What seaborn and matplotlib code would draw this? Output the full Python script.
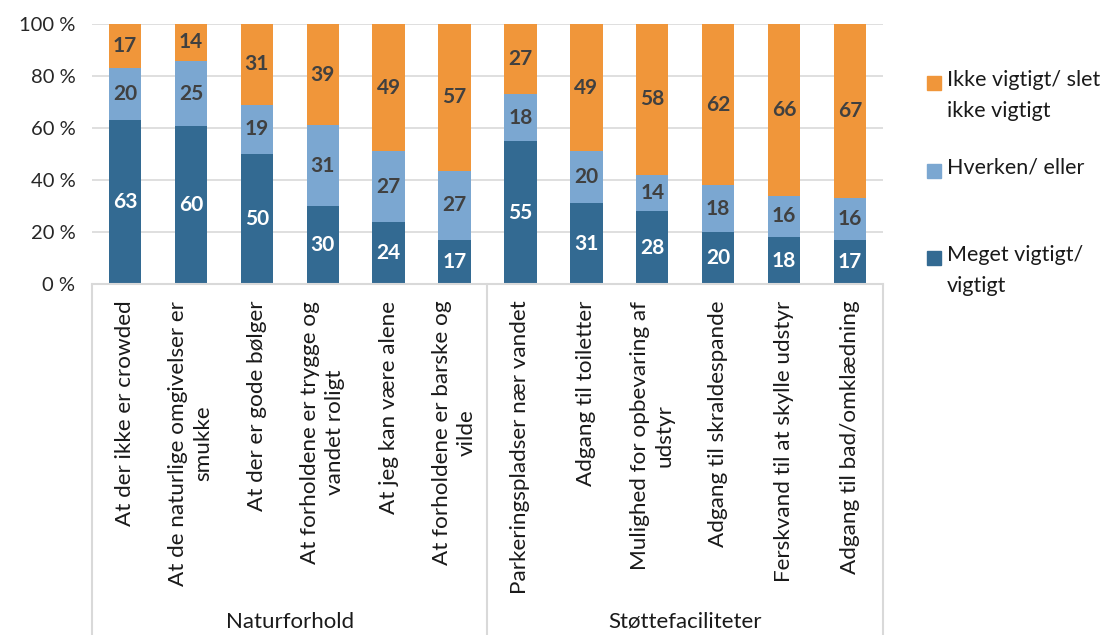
import matplotlib
matplotlib.use('Agg')
import matplotlib.pyplot as plt
from matplotlib.patches import Rectangle
import numpy as np
import pandas as pd
import seaborn as sns

categories = [
    'At der ikke er crowded',
    'At de naturlige omgivelser er\nsmukke',
    'At der er gode bølger',
    'At forholdene er trygge og\nvandet roligt',
    'At jeg kan være alene',
    'At forholdene er barske og\nvilde',
    'Parkeringspladser nær vandet',
    'Adgang til toiletter',
    'Mulighed for opbevaring af\nudstyr',
    'Adgang til skraldespande',
    'Ferskvand til at skylle udstyr',
    'Adgang til bad/omklædning',
]
groups = ['Naturforhold', 'Støttefaciliteter']
group_sizes = [6, 6]

meget = [63, 60, 50, 30, 24, 17, 55, 31, 28, 20, 18, 17]
hverken = [20, 25, 19, 31, 27, 27, 18, 20, 14, 18, 16, 16]
ikke = [17, 14, 31, 39, 49, 57, 27, 49, 58, 62, 66, 67]

series_names = ['Meget vigtigt/\nvigtigt', 'Hverken/ eller', 'Ikke vigtigt/ slet\nikke vigtigt']
colors = ['#336A92', '#7BA7D1', '#F0963A']

sns.set_style('white')
plt.rcParams['font.family'] = ['Lato', 'DejaVu Sans']

df = pd.DataFrame({'cat': categories, 'meget': meget, 'hverken': hverken, 'ikke': ikke})
tot = df[['meget', 'hverken', 'ikke']].sum(axis=1)
df['c1'] = df['meget'] / tot * 100
df['c2'] = (df['meget'] + df['hverken']) / tot * 100
df['c3'] = 100.0

W, H = 1103, 635
fig = plt.figure(figsize=(W / 100, H / 100), dpi=100)
ax = fig.add_axes([92 / W, 1 - 284 / H, 791 / W, 260 / H])

for y in [20, 40, 60, 80, 100]:
    ax.axhline(y, color='#D9D9D9', lw=1.2, zorder=0)

for col, c in zip(['c3', 'c2', 'c1'], [colors[2], colors[1], colors[0]]):
    sns.barplot(data=df, x='cat', y=col, color=c, width=0.49, ax=ax,
                saturation=1, edgecolor='none', zorder=2)

# labels
for i in range(len(categories)):
    c1, c2 = df['c1'][i], df['c2'][i]
    ax.text(i, c1 / 2, str(meget[i]), ha='center', va='center', color='white',
            fontsize=15, fontweight='bold')
    ax.text(i, (c1 + c2) / 2, str(hverken[i]), ha='center', va='center', color='#404040',
            fontsize=15, fontweight='bold')
    ax.text(i, (c2 + 100) / 2, str(ikke[i]), ha='center', va='center', color='#404040',
            fontsize=15, fontweight='bold')

ax.set_xlim(-0.5, len(categories) - 0.5)
ax.set_ylim(0, 100)
ax.set_yticks([0, 20, 40, 60, 80, 100])
ax.set_yticklabels([f'{v} %' for v in [0, 20, 40, 60, 80, 100]], fontsize=14.5)
ax.tick_params(axis='y', length=0, pad=12)
ax.set_xticks([])
ax.set_xlabel('')
ax.set_ylabel('')
for s in ['top', 'right', 'left']:
    ax.spines[s].set_visible(False)
ax.spines['bottom'].set_color('#D9D9D9')
ax.spines['bottom'].set_linewidth(1.5)

# category labels, rotated
for i, lab in enumerate(categories):
    ax.annotate(lab, xy=(i, 0), xycoords='data', xytext=(0, -12), textcoords='offset points',
                rotation=90, ha='center', va='top', multialignment='center', fontsize=16.2,
                color='#1a1a1a', annotation_clip=False, linespacing=1.3)

# group separators and labels
bounds = np.concatenate([[0], np.cumsum(group_sizes)]) - 0.5
for b in bounds:
    ax.plot([b, b], [0, -135], color='#D9D9D9', lw=1.5, clip_on=False)
for g, lo, hi in zip(groups, bounds[:-1], bounds[1:]):
    ax.text((lo + hi) / 2, -130, g, ha='center', va='center', fontsize=16, color='#1a1a1a',
            clip_on=False)

# legend drawn by hand to match spacing
leg_y = [83, 171, 258]
for yy, name, c in zip(leg_y, [series_names[2], series_names[1], series_names[0]],
                       [colors[2], colors[1], colors[0]]):
    fig.patches.append(Rectangle((927 / W, 1 - (yy + 7) / H), 14 / W, 14 / H,
                                 transform=fig.transFigure, color=c))
    fig.text(947 / W, 1 - (yy - 13) / H, name, ha='left', va='top', fontsize=15.5,
             color='#1a1a1a', linespacing=1.7)

fig.savefig('out.png', dpi=100)
